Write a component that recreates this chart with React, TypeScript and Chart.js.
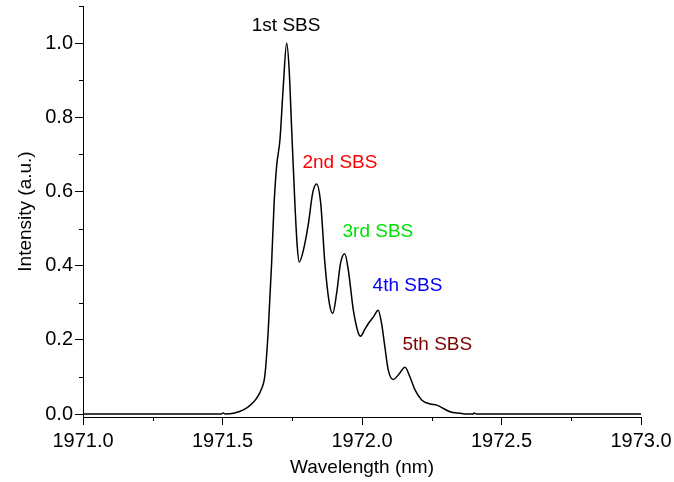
import React, { useEffect, useRef } from "react";
import { Chart, registerables } from "chart.js";

Chart.register(...registerables);

// Spectrum (wavelength in nm, normalised intensity)
const wavelength = [
  1971.0, 1971.25, 1971.495, 1971.502, 1971.51, 1971.54, 1971.575, 1971.6, 1971.62, 1971.64,
  1971.652, 1971.664, 1971.676, 1971.685, 1971.694, 1971.706, 1971.718, 1971.73, 1971.739, 1971.748,
  1971.76, 1971.768, 1971.775, 1971.79, 1971.808, 1971.823, 1971.837, 1971.852, 1971.867, 1971.883,
  1971.895, 1971.909, 1971.923, 1971.938, 1971.951, 1971.969, 1971.987, 1971.995, 1972.01, 1972.023,
  1972.041, 1972.058, 1972.07, 1972.082, 1972.094, 1972.112, 1972.13, 1972.154, 1972.172, 1972.19,
  1972.214, 1972.244, 1972.268, 1972.292, 1972.315, 1972.351, 1972.38, 1972.398, 1972.402, 1972.41,
  1972.7, 1973.0,
];
const intensity = [
  0.0, 0.0, 0.0, 0.003, 0.0, 0.002, 0.011, 0.024, 0.04, 0.068,
  0.105, 0.226, 0.406, 0.568, 0.668, 0.74, 0.885, 1.0, 0.927, 0.766,
  0.559, 0.451, 0.41, 0.442, 0.514, 0.595, 0.62, 0.568, 0.406, 0.298,
  0.271, 0.325, 0.406, 0.432, 0.388, 0.28, 0.218, 0.21, 0.228, 0.244,
  0.262, 0.28, 0.245, 0.181, 0.119, 0.093, 0.105, 0.126, 0.1, 0.065,
  0.038, 0.027, 0.024, 0.015, 0.006, 0.002, 0.0, 0.0, 0.003, 0.0,
  0.0, 0.0,
];

// Axis ticks
const xMajorTicks = [1971.0, 1971.5, 1972.0, 1972.5, 1973.0];
const xMinorTicks = [1971.25, 1971.75, 1972.25, 1972.75];
const yMajorTicks = [0.0, 0.2, 0.4, 0.6, 0.8, 1.0];
const yMinorTicks = [0.1, 0.3, 0.5, 0.7, 0.9, 1.1];

// Peak annotations (data coordinates of label centres)
const sbsLabels = ["1st SBS", "2nd SBS", "3rd SBS", "4th SBS", "5th SBS"];
const sbsX = [1971.728, 1971.921, 1972.057, 1972.163, 1972.27];
const sbsY = [1.046, 0.677, 0.491, 0.345, 0.187];
const sbsColors = ["#000000", "#ff0000", "#00e000", "#0000ff", "#800000"];

const FONT = "'Liberation Sans', Arial, Helvetica, sans-serif";

export default function App() {
  const ref = useRef<HTMLCanvasElement>(null);

  useEffect(() => {
    document.body.style.margin = "0";
    const canvas = ref.current;
    if (!canvas) return;

    const extras = {
      id: "extras",
      afterDraw(chart: any) {
        const { ctx, chartArea } = chart;
        const x = chart.scales.x;
        const y = chart.scales.y;
        ctx.save();
        ctx.strokeStyle = "#000";
        ctx.lineWidth = 1;
        ctx.beginPath();
        yMinorTicks.forEach((v) => {
          const py = Math.round(y.getPixelForValue(v)) + 0.5;
          ctx.moveTo(chartArea.left - 4, py);
          ctx.lineTo(chartArea.left, py);
        });
        xMinorTicks.forEach((v) => {
          const px = Math.round(x.getPixelForValue(v)) + 0.5;
          ctx.moveTo(px, chartArea.bottom);
          ctx.lineTo(px, chartArea.bottom + 4);
        });
        ctx.stroke();
        ctx.font = `19px ${FONT}`;
        ctx.textAlign = "center";
        ctx.textBaseline = "middle";
        sbsLabels.forEach((t, i) => {
          ctx.fillStyle = sbsColors[i];
          ctx.fillText(t, x.getPixelForValue(sbsX[i]), y.getPixelForValue(sbsY[i]));
        });
        ctx.restore();
      },
    };

    const chart = new Chart(canvas, {
      type: "line",
      data: {
        datasets: [
          {
            data: wavelength.map((w, i) => ({ x: w, y: intensity[i] })),
            borderColor: "#000",
            borderWidth: 1.5,
            pointRadius: 0,
            fill: false,
            cubicInterpolationMode: "monotone",
          },
        ],
      },
      options: {
        animation: false,
        responsive: false,
        devicePixelRatio: 1,
        layout: { padding: { left: 0, right: 33, top: 6, bottom: 0 } },
        plugins: { legend: { display: false }, tooltip: { enabled: false } },
        scales: {
          x: {
            type: "linear",
            min: 1971,
            max: 1973,
            afterFit: (s: any) => {
              s.height = 65;
              s.paddingLeft = 0;
              s.paddingRight = 0;
            },
            afterBuildTicks: (s: any) => {
              s.ticks = xMajorTicks.map((v) => ({ value: v }));
            },
            ticks: {
              color: "#000",
              font: { size: 20, family: FONT },
              padding: 4,
              maxRotation: 0,
              autoSkip: false,
              callback: (v: any) => Number(v).toFixed(1),
            },
            grid: { drawOnChartArea: false, drawTicks: true, tickLength: 8, color: "#000", tickColor: "#000" },
            border: { display: true, color: "#000", width: 1 },
            title: {
              display: true,
              text: "Wavelength (nm)",
              color: "#000",
              font: { size: 19, family: FONT },
              padding: { top: 0, bottom: 3 },
            },
          },
          y: {
            type: "linear",
            min: -0.008,
            max: 1.1,
            afterFit: (s: any) => {
              s.width = 83;
              s.paddingTop = 0;
              s.paddingBottom = 0;
            },
            afterBuildTicks: (s: any) => {
              s.ticks = yMajorTicks.map((v) => ({ value: v }));
            },
            ticks: {
              color: "#000",
              font: { size: 20, family: FONT },
              padding: 2,
              autoSkip: false,
              callback: (v: any) => Number(v).toFixed(1),
            },
            grid: { drawOnChartArea: false, drawTicks: true, tickLength: 8, color: "#000", tickColor: "#000" },
            border: { display: true, color: "#000", width: 1 },
            title: {
              display: true,
              text: "Intensity (a.u.)",
              color: "#000",
              font: { size: 19, family: FONT },
              padding: { top: 14, bottom: 0 },
            },
          },
        },
      },
      plugins: [extras],
    } as any);

    return () => chart.destroy();
  }, []);

  return <canvas ref={ref} width={674} height={482} style={{ display: "block" }} />;
}
